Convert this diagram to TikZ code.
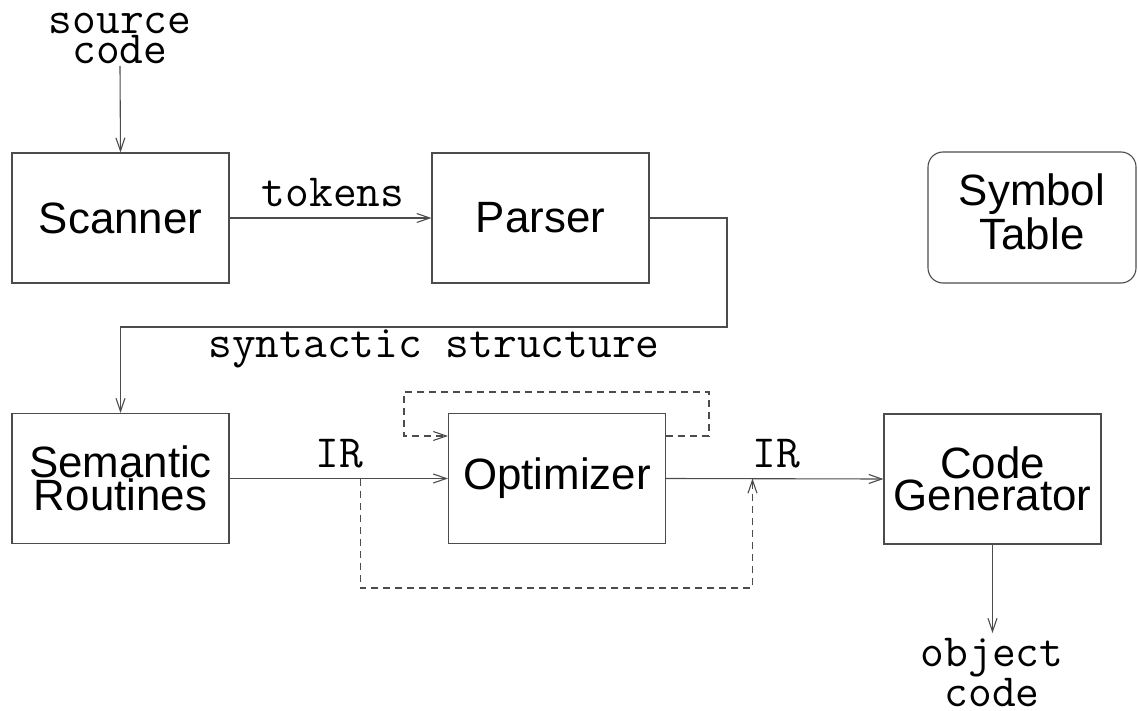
\documentclass[tikz,border=0pt]{standalone}
\usepackage{fontspec}
\setmainfont{Liberation Sans}
\usetikzlibrary{arrows.meta}
\definecolor{linec}{gray}{0.3}
\begin{document}
\begin{tikzpicture}[x=1bp,y=-1bp,
  stage/.style={draw=linec, line width=1.1bp, rectangle, inner sep=0,
    minimum width=217bp, minimum height=130bp, align=center,
    font=\fontsize{44}{31}\selectfont},
  tablebox/.style={stage, rounded corners=15bp, minimum width=208bp, minimum height=131bp,
    font=\fontsize{44}{44}\selectfont},
  lbl/.style={inner sep=0, align=center, font=\ttfamily\fontsize{46.3}{31}\selectfont},
  flow/.style={draw=linec, line width=1.1bp, -{Straight Barb[length=13bp,width=9bp]}},
  alt/.style={flow, dash pattern=on 7bp off 5bp}]
\useasboundingbox (0,0) rectangle (1138,711);

% stages of the compiler
\node[stage] (scan) at (120.5,218) {Scanner};
\node[stage] (parse) at (540.5,218) {Parser};
\node[stage] (sem) at (120.5,478.5) {Semantic\\Routines};
\node[stage] (opt) at (557,478.5) {Optimizer};
\node[stage] (gen) at (992.5,479) {Code\\Generator};
\node[tablebox] (symtab) at (1032,217.5) {Symbol\\Table\rule[-12bp]{0pt}{0pt}};

% input and output (anchored at the baseline of the last line)
\node[lbl, anchor=base] (src) at (120,64) {source\\code};
\node[lbl, anchor=base] (obj) at (992,706) {object\\code};
\coordinate (srcend) at (120,66);
\coordinate (objend) at (992.5,633);

% edge labels
\node[lbl, anchor=base] (tok) at (333,207) {tokens};
\node[lbl, anchor=base] (syn) at (434,357) {syntactic structure};
\node[lbl, anchor=base] (ir1) at (339.5,467.5) {IR};
\node[lbl, anchor=base] (ir2) at (776,467.5) {IR};

% main flow
\draw[flow] (srcend) -- (scan.north);
\draw[flow] (scan.east) -- (parse.west);
\draw[flow] (parse.east) -- (727,218) -- (727,327) -- (120.5,327) -- (sem.north);
\draw[flow] (sem.east) -- (opt.west);
\draw[flow] (opt.east) -- (gen.west);
\draw[flow] (gen.south) -- (objend);

% optional optimizer passes
\coordinate (optout) at (opt.east |- 0,436);
\coordinate (optin) at (opt.west |- 0,436);
\draw[alt] (optout) -- (709,436) -- (709,392) -- (404,392) -- (404,436) -- (optin);
\coordinate (skipfrom) at (360.5,478.5);
\coordinate (skipto) at (752.5,478.5);
\draw[alt] (skipfrom) -- (360.5,588) -- (752.5,588) -- (skipto);
\end{tikzpicture}
\end{document}
